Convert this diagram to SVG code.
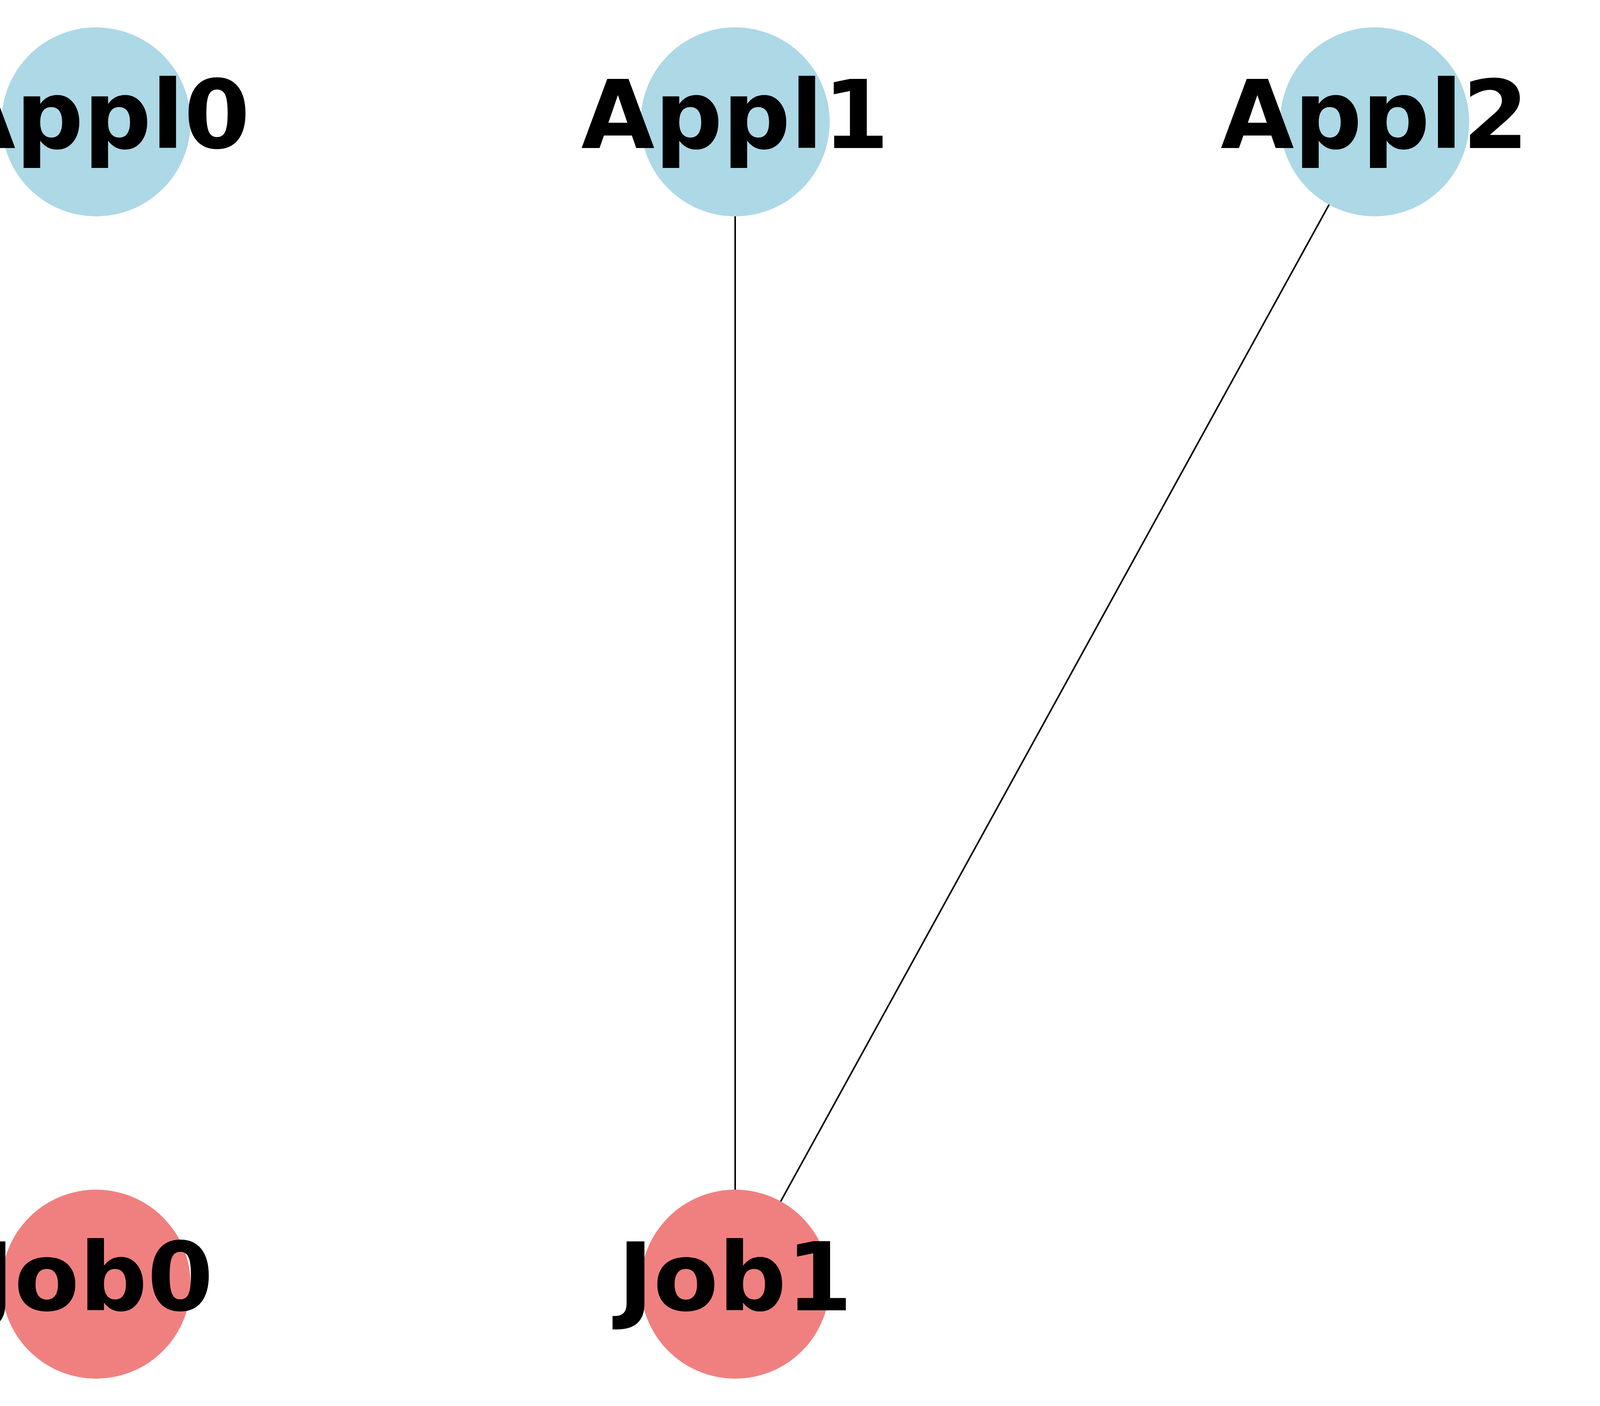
<svg xmlns="http://www.w3.org/2000/svg" width="5400" height="3600" viewBox="0 0 5400 3600">
<style>
.appl{fill:#add8e6}
.job{fill:#f08080}
.lbl{font-family:"DejaVu Sans","Liberation Sans",sans-serif;font-weight:bold;font-size:243px;fill:#000;text-anchor:middle}
.edge{stroke:#000;stroke-width:4;fill:none}
</style>
<rect width="5400" height="3600" fill="#fff"/>
<g id="connectors">
<line class="edge" x1="1882" y1="312" x2="1882" y2="3288"/>
<line class="edge" x1="3519" y1="312" x2="1882" y2="3288"/>
</g>
<g id="Appl0"><circle class="appl" cx="246" cy="312" r="242"/><text class="lbl" x="246" y="379">Appl0</text></g>
<g id="Appl1"><circle class="appl" cx="1882" cy="312" r="242"/><text class="lbl" x="1882" y="379">Appl1</text></g>
<g id="Appl2"><circle class="appl" cx="3519" cy="312" r="242"/><text class="lbl" x="3519" y="379">Appl2</text></g>
<g id="Appl3"><circle class="appl" cx="5155" cy="312" r="242"/><text class="lbl" x="5155" y="379">Appl3</text></g>
<g id="Job0"><circle class="job" cx="246" cy="3288" r="242"/><text class="lbl" x="246" y="3355">Job0</text></g>
<g id="Job1"><circle class="job" cx="1882" cy="3288" r="242"/><text class="lbl" x="1882" y="3355">Job1</text></g>
</svg>
